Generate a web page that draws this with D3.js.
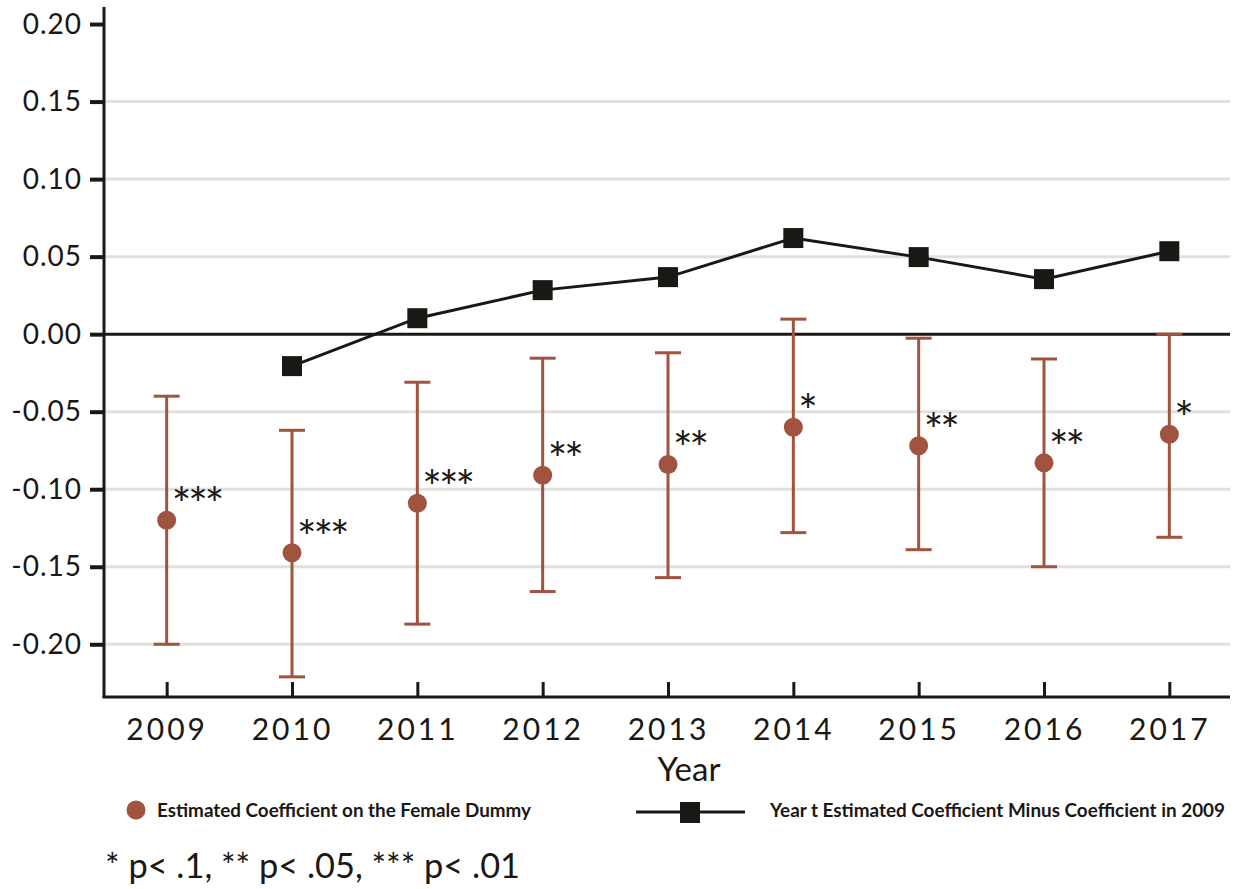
<!DOCTYPE html>
<html>
<head>
<meta charset="utf-8">
<script src="https://cdn.jsdelivr.net/npm/d3@7"></script>
<style>
  body { margin: 0; background: #fff; }
  text { font-family: Lato, "Noto Sans", sans-serif; fill: #1a1814; }
</style>
</head>
<body>
<svg width="1244" height="889"></svg>
<script>
// data
const years = ["2009","2010","2011","2012","2013","2014","2015","2016","2017"];
const coef  = [-0.120, -0.141, -0.109, -0.091, -0.084, -0.060, -0.072, -0.083, -0.0645];
const ciLow = [-0.200, -0.221, -0.187, -0.166, -0.157, -0.128, -0.139, -0.150, -0.131];
const ciHigh= [-0.040, -0.062, -0.031, -0.0155, -0.012, 0.0097, -0.0026, -0.016, 0.000];
const stars = ["***","***","***","**","**","*","**","**","*"];
const diffYears = ["2010","2011","2012","2013","2014","2015","2016","2017"];
const diffVals  = [-0.0206, 0.0103, 0.0284, 0.0368, 0.062, 0.0497, 0.0355, 0.0535];
const yTicks = [-0.20, -0.15, -0.10, -0.05, 0.00, 0.05, 0.10, 0.15, 0.20];

const svg = d3.select("svg");
const rust = "#a0543f";
const ink = "#1a1814";

const x = d3.scalePoint().domain(years).range([104, 1232]).padding(0.5);
const y = d3.scaleLinear().domain([-0.234, 0.211]).range([697, 7]);

// gridlines
svg.append("g").selectAll("line")
  .data(yTicks.filter(d => d !== 0 && d !== 0.20))
  .join("line")
  .attr("x1", 104).attr("x2", 1230)
  .attr("y1", d => y(d)).attr("y2", d => y(d))
  .attr("stroke", "#e3e0db").attr("stroke-width", 3);

// zero line
svg.append("line")
  .attr("x1", 104).attr("x2", 1230)
  .attr("y1", y(0)).attr("y2", y(0))
  .attr("stroke", ink).attr("stroke-width", 3);

// y axis
const yAxis = svg.append("g").attr("transform", "translate(104,0)")
  .call(d3.axisLeft(y).tickValues(yTicks).tickSize(14).tickPadding(8)
    .tickFormat(d => d3.format(".2f")(d).replace("−", "-")));
yAxis.select(".domain").attr("stroke", ink).attr("stroke-width", 3)
  .attr("d", "M0,7V697");
yAxis.selectAll(".tick line").attr("stroke", ink).attr("stroke-width", 4);
yAxis.selectAll(".tick text").attr("font-size", 28).attr("fill", ink)
  .attr("letter-spacing", 1).attr("font-family", "Lato, sans-serif");

// x axis
const xAxis = svg.append("g").attr("transform", "translate(0,697)")
  .call(d3.axisBottom(x).tickSize(-15).tickPadding(22));
xAxis.select(".domain").attr("stroke", ink).attr("stroke-width", 3)
  .attr("d", "M102.5,0H1230");
xAxis.selectAll(".tick line").attr("stroke", ink).attr("stroke-width", 3);
xAxis.selectAll(".tick text").attr("font-size", 30).attr("fill", ink)
  .attr("letter-spacing", 3).attr("font-family", "Lato, sans-serif");

svg.append("text").attr("x", x("2013") + 21).attr("y", 781)
  .attr("text-anchor", "middle").attr("font-size", 33).text("Year");

// error bars
const eb = svg.append("g");
eb.selectAll("line.v").data(years).join("line").attr("class", "v")
  .attr("x1", d => x(d)).attr("x2", d => x(d))
  .attr("y1", (d, i) => y(ciHigh[i])).attr("y2", (d, i) => y(ciLow[i]))
  .attr("stroke", rust).attr("stroke-width", 3);
eb.selectAll("line.hi").data(years).join("line").attr("class", "hi")
  .attr("x1", d => x(d) - 13).attr("x2", d => x(d) + 13)
  .attr("y1", (d, i) => y(ciHigh[i])).attr("y2", (d, i) => y(ciHigh[i]))
  .attr("stroke", rust).attr("stroke-width", 3);
eb.selectAll("line.lo").data(years).join("line").attr("class", "lo")
  .attr("x1", d => x(d) - 13).attr("x2", d => x(d) + 13)
  .attr("y1", (d, i) => y(ciLow[i])).attr("y2", (d, i) => y(ciLow[i]))
  .attr("stroke", rust).attr("stroke-width", 3);
eb.selectAll("circle").data(years).join("circle")
  .attr("cx", d => x(d)).attr("cy", (d, i) => y(coef[i])).attr("r", 9.5)
  .attr("fill", rust);

// significance stars
svg.append("g").selectAll("text").data(years).join("text")
  .attr("x", d => x(d) + 5).attr("y", (d, i) => y(coef[i]) + 1)
  .attr("font-size", 46).attr("font-family", "DejaVu Sans, sans-serif")
  .attr("letter-spacing", -3)
  .text((d, i) => stars[i]);

// difference line
const line = d3.line().x(d => x(d[0])).y(d => y(d[1]));
const diffData = diffYears.map((d, i) => [d, diffVals[i]]);
svg.append("path").datum(diffData).attr("d", line)
  .attr("fill", "none").attr("stroke", ink).attr("stroke-width", 3);
svg.append("g").selectAll("rect").data(diffData).join("rect")
  .attr("x", d => x(d[0]) - 10).attr("y", d => y(d[1]) - 10)
  .attr("width", 20).attr("height", 20).attr("fill", ink);

// legend
svg.append("circle").attr("cx", 136).attr("cy", 810).attr("r", 9.5).attr("fill", rust);
svg.append("text").attr("x", 157).attr("y", 817).attr("font-size", 18)
  .attr("font-weight", "bold").attr("font-family", "Liberation Sans Narrow, Roboto, sans-serif")
  .attr("textLength", 374).attr("lengthAdjust", "spacingAndGlyphs")
  .text("Estimated Coefficient on the Female Dummy");
svg.append("line").attr("x1", 636).attr("x2", 745).attr("y1", 812).attr("y2", 812)
  .attr("stroke", ink).attr("stroke-width", 3);
svg.append("rect").attr("x", 680).attr("y", 802).attr("width", 20).attr("height", 21).attr("fill", ink);
svg.append("text").attr("x", 770).attr("y", 817).attr("font-size", 18)
  .attr("font-weight", "bold").attr("font-family", "Liberation Sans Narrow, Roboto, sans-serif")
  .attr("textLength", 455).attr("lengthAdjust", "spacingAndGlyphs")
  .text("Year t Estimated Coefficient Minus Coefficient in 2009");

// footnote
svg.append("text").attr("x", 105).attr("y", 878).attr("font-size", 34)
  .attr("textLength", 415).attr("lengthAdjust", "spacingAndGlyphs")
  .text("* p< .1, ** p< .05, *** p< .01");
</script>
</body>
</html>
